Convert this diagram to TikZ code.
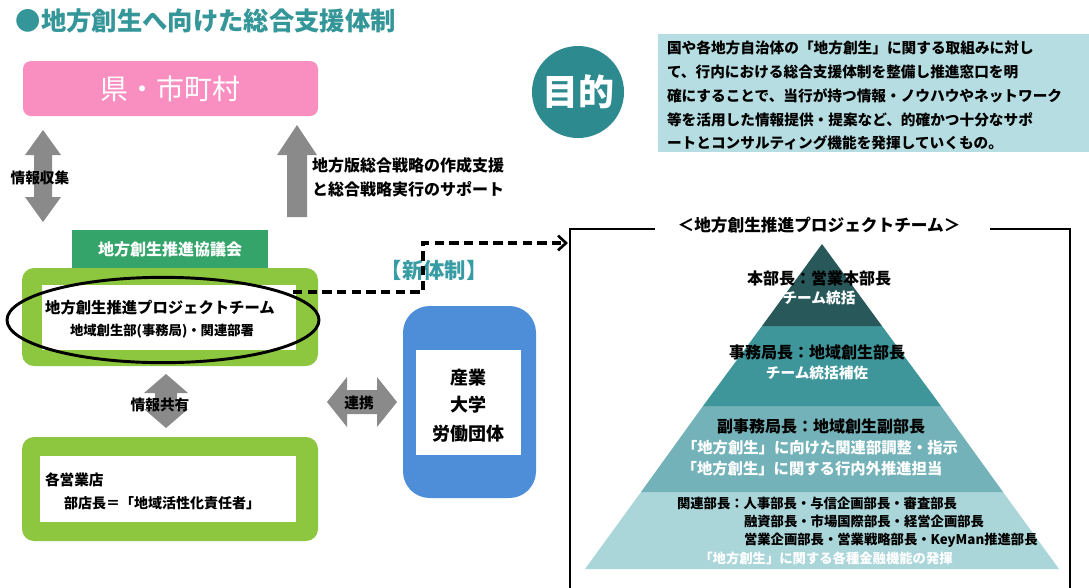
\documentclass[tikz,border=0pt]{standalone}
\usepackage{fontspec}
\setmainfont{Noto Sans CJK JP}
\usetikzlibrary{arrows.meta,calc,shapes.geometric}
\definecolor{tealtitle}{RGB}{52,150,152}
\definecolor{pinkbox}{RGB}{249,142,192}
\definecolor{arrowgray}{RGB}{138,138,138}
\definecolor{darkgreen}{RGB}{52,164,106}
\definecolor{lightgreen}{RGB}{141,198,63}
\definecolor{bluebox}{RGB}{78,142,216}
\definecolor{circteal}{RGB}{45,138,142}
\definecolor{lightblue}{RGB}{182,221,225}
\definecolor{newteal}{RGB}{56,156,164}
\definecolor{pyrA}{RGB}{40,88,90}
\definecolor{pyrB}{RGB}{62,150,155}
\definecolor{pyrC}{RGB}{114,178,184}
\definecolor{pyrD}{RGB}{170,214,218}
\newcommand{\fs}[1]{\fontsize{#1}{#1}\selectfont}
\begin{document}
\begin{tikzpicture}[x=0.75pt,y=-0.75pt,
  every node/.style={inner sep=0pt,outer sep=0pt},
  graybar/.style={fill=arrowgray,draw=none},
  lbl/.style={font=\fs{11pt}\bfseries},
  pyrblack/.style={font=\fs{12pt}\bfseries,text=black},
  pyrwhite/.style={font=\fs{11pt}\bfseries,text=white},
  pyrsmall/.style={font=\fs{10pt}\bfseries,text=black,anchor=west},
  purp/.style={font=\fs{11pt}\bfseries,anchor=west},
  dashline/.style={line width=2.5pt,dash pattern=on 7pt off 4pt,-{Straight Barb[length=6pt,width=11pt,line width=2pt]}},
  frameline/.style={line width=2.2pt}]
\useasboundingbox (0,0) rectangle (1089,587);
\fill[white] (0,0) rectangle (1089,587);

% title
\node[anchor=west,text=tealtitle,font=\fs{19pt}\bfseries] (title) at (16,21) {●地方創生へ向けた総合支援体制};

% pink box
\fill[pinkbox,rounded corners=6pt] (23,61) rectangle (318,116);
\node[text=white,font=\fs{21pt}] (ken) at (170,89) {県・市町村};

% left double arrow
\fill[graybar] (43,130) -- (61,155) -- (52,155) -- (52,197) -- (61,197) -- (43,222) -- (25,197) -- (34,197) -- (34,155) -- (25,155) -- cycle;
\node[lbl] (shushu) at (40,178) {情報収集};

% up arrow
\fill[graybar] (297,125) -- (317,155) -- (307,155) -- (307,217) -- (287,217) -- (287,155) -- (277,155) -- cycle;
\node[anchor=west,font=\fs{12pt}\bfseries] (sup1) at (312,165) {地方版総合戦略の作成支援};
\node[anchor=west,font=\fs{12pt}\bfseries] (sup2) at (312,189) {と総合戦略実行のサポート};

% council
\fill[darkgreen] (72,230) rectangle (268,268);
\node[text=white,font=\fs{12pt}\bfseries] (kyogi) at (170,249) {地方創生推進協議会};

% project team box
\fill[lightgreen,rounded corners=9pt] (22,268) rectangle (318,366);
\fill[white] (42,285) rectangle (296,350);
\node[lbl,font=\fs{11.5pt}\bfseries] (pt1) at (160,308) {地方創生推進プロジェクトチーム};
\node[font=\fs{10pt}\bfseries] (pt2) at (162,331) {地域創生部(事務局)・関連部署};
\node[draw=black,line width=2.2pt,ellipse,minimum width=234pt,minimum height=64pt] (ell) at (163,320) {};

% info sharing arrow
\fill[graybar] (166,374) -- (188,393) -- (177,393) -- (177,409) -- (188,409) -- (166,428) -- (144,409) -- (155,409) -- (155,393) -- (144,393) -- cycle;
\node[lbl] (kyoyu) at (160,405) {情報共有};

% branch box
\fill[lightgreen,rounded corners=9pt] (22,437) rectangle (318,541);
\fill[white] (40,456) rectangle (296,522);
\node[lbl,anchor=west] (br1) at (45,480) {各営業店};
\node[anchor=west,font=\fs{10.5pt}\bfseries] (br2) at (64,503) {部店長＝「地域活性化責任者」};

% renkei arrow
\fill[graybar] (327,402) -- (347,377) -- (347,390) -- (377,390) -- (377,377) -- (397,402) -- (377,427) -- (377,414) -- (347,414) -- (347,427) -- cycle;
\node[lbl] (renkei) at (359,403) {連携};

% blue box
\fill[bluebox,rounded corners=20pt] (403,306) rectangle (536,498);
\fill[white] (416,350) rectangle (521,455);
\node[font=\fs{13.5pt}\bfseries] (san1) at (468,378) {産業};
\node[font=\fs{13.5pt}\bfseries] (san2) at (468,405) {大学};
\node[font=\fs{13.5pt}\bfseries] (san3) at (468,434) {労働団体};

% new system label
\node[text=newteal,font=\fs{16pt}\bfseries] (shin) at (434,270) {【新体制】};

% dashed connector
\coordinate (dstart) at (293,292);
\coordinate (dmid) at (423,243);
\coordinate (dend) at (568,243);
\draw[dashline] (dstart) -| (dmid) -- (dend);

% purpose
\fill[lightblue] (658,34) rectangle (1089,152);
\node[circle,fill=circteal,minimum size=69pt] (circ) at (578,92) {};
\node[text=white,font=\fs{27pt}\bfseries] (mokuteki) at (578,92) {目的};
\node[purp] (p1) at (667,48) {国や各地方自治体の「地方創生」に関する取組みに対し};
\node[purp] (p2) at (667,72) {て、行内における総合支援体制を整備し推進窓口を明};
\node[purp] (p3) at (667,96) {確にすることで、当行が持つ情報・ノウハウやネットワーク};
\node[purp] (p4) at (667,120) {等を活用した情報提供・提案など、的確かつ十分なサポ};
\node[purp] (p5) at (667,143) {ートとコンサルティング機能を発揮していくもの。};

% frame
\node[font=\fs{12.5pt}\bfseries] (ptitle) at (819,225) {＜地方創生推進プロジェクトチーム＞};
\draw[frameline] (655,229) -- (570,229) -- (570,590);
\draw[frameline] (990,229) -- (1070,229) -- (1070,590);

% pyramid
\fill[pyrD] (641,492) -- (1003,492) -- (1059,569) -- (585,569) -- cycle;
\fill[pyrC] (703,406) -- (941,406) -- (1003,492) -- (641,492) -- cycle;
\fill[pyrB] (762,326) -- (882,326) -- (941,406) -- (703,406) -- cycle;
\fill[pyrA] (822,244) -- (882,326) -- (762,326) -- cycle;

\node[pyrblack] (a1) at (819,278) {本部長：営業本部長};
\node[pyrwhite] (a2) at (819,298) {チーム統括};
\node[pyrblack] (b1) at (817,352) {事務局長：地域創生部長};
\node[pyrwhite] (b2) at (817,373) {チーム統括補佐};
\node[pyrblack] (c1) at (821,426) {副事務局長：地域創生副部長};
\node[pyrwhite,font=\fs{11.5pt}\bfseries] (c2) at (820,448) {「地方創生」に向けた関連部調整・指示};
\node[pyrwhite,font=\fs{11.5pt}\bfseries] (c3) at (812,469) {「地方創生」に関する行内外推進担当};
\node[pyrsmall] (d1) at (677,503) {関連部長：人事部長・与信企画部長・審査部長};
\node[pyrsmall] (d2) at (744,521) {融資部長・市場国際部長・経営企画部長};
\node[pyrsmall] (d3) at (744,540) {営業企画部長・営業戦略部長・KeyMan推進部長};
\node[text=white,font=\fs{10pt}\bfseries] (d4) at (826,558) {「地方創生」に関する各種金融機能の発揮};
\end{tikzpicture}
\end{document}
